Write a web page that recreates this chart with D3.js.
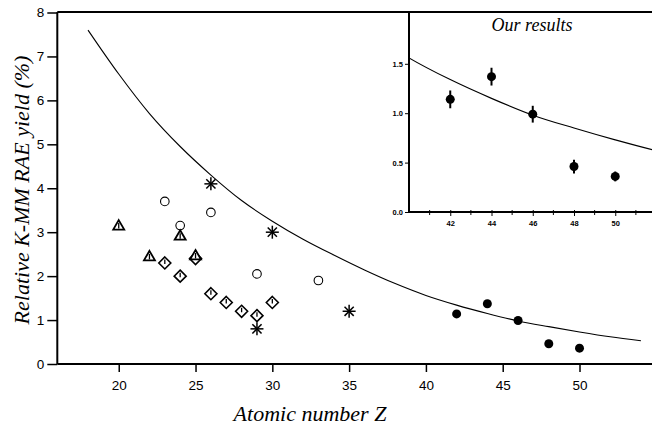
<!DOCTYPE html>
<html>
<head>
<meta charset="utf-8">
<script src="https://cdn.jsdelivr.net/npm/d3@7"></script>
<style>
  html, body { margin: 0; padding: 0; background: #fff; }
  svg { display: block; }
</style>
</head>
<body>
<svg id="chart" width="652" height="428"></svg>
<script>
// Theoretical K-MM RAE yield curve (Z, %)
const curveZ = [18, 20, 22, 24, 26, 28, 30, 32, 34, 36, 38, 40, 42, 44, 46, 48, 50, 52, 54];
const curveY = [7.6, 6.6, 5.7, 4.95, 4.3, 3.72, 3.25, 2.84, 2.48, 2.14, 1.83, 1.56, 1.34, 1.15, 0.98, 0.85, 0.73, 0.62, 0.53];

// Earlier measurements, one array pair per symbol
const triangleZ = [20, 22, 24, 25];
const triangleY = [3.15, 2.45, 2.92, 2.47];
const circleZ = [23, 24, 26, 29, 33];
const circleY = [3.7, 3.15, 3.45, 2.05, 1.9];
const diamondZ = [23, 24, 25, 26, 27, 28, 29, 30];
const diamondY = [2.3, 2.0, 2.4, 1.6, 1.4, 1.2, 1.1, 1.4];
const starZ = [26, 29, 30, 35];
const starY = [4.1, 0.8, 3.0, 1.2];

// Present results with uncertainties
const ourZ = [42, 44, 46, 48, 50];
const ourY = [1.14, 1.37, 0.99, 0.46, 0.36];
const ourErr = [0.09, 0.09, 0.085, 0.07, 0.05];

// Tick values
const xTicks = [20, 25, 30, 35, 40, 45, 50];
const yTicks = [0, 1, 2, 3, 4, 5, 6, 7, 8];
const insetXTicks = [42, 44, 46, 48, 50];
const insetXMinor = [41, 43, 45, 47, 49, 51];
const insetYTicks = [0, 0.5, 1.0, 1.5];

const svg = d3.select("#chart");
const sans = "'Liberation Sans', Arial, sans-serif";
const serif = "'Liberation Serif', 'Times New Roman', serif";

// ---------- main panel ----------
const x = d3.scaleLinear().domain([16, 55]).range([57.3, 656.3]);
const y = d3.scaleLinear().domain([0, 8]).range([364, 12.5]);

const main = svg.append("g");

// frame: left axis, bottom axis, top border
main.append("line").attr("x1", x(16)).attr("x2", 652).attr("y1", 12).attr("y2", 12)
  .attr("stroke", "#000").attr("stroke-width", 2);

const yAxis = main.append("g").attr("transform", `translate(${x(16)},0)`)
  .call(d3.axisLeft(y).tickValues(yTicks).tickSize(10).tickPadding(3).tickFormat(d3.format("d")));
const xAxis = main.append("g").attr("transform", `translate(0,${y(0)})`)
  .call(d3.axisBottom(x).tickValues(xTicks).tickSize(8).tickPadding(8).tickFormat(d3.format("d")));
[yAxis, xAxis].forEach(a => {
  a.select(".domain").attr("stroke-width", 2);
  a.selectAll(".tick line").attr("stroke-width", 1.5);
  a.selectAll("text").attr("font-family", sans).attr("font-size", 13.5).attr("fill", "#000");
});
xAxis.select(".domain").attr("d", `M${x(16)},0H652`);
yAxis.select(".domain").attr("d", `M0,${y(0)}V12`);

// theory curve
const curvePts = curveZ.map((z, i) => [z, curveY[i]]);
main.append("path").datum(curvePts)
  .attr("fill", "none").attr("stroke", "#000").attr("stroke-width", 1.1)
  .attr("d", d3.line().x(d => x(d[0])).y(d => y(d[1])).curve(d3.curveMonotoneX));

// open circles
main.selectAll(".circ").data(circleZ.map((z, i) => [z, circleY[i]])).join("circle")
  .attr("cx", d => x(d[0])).attr("cy", d => y(d[1])).attr("r", 4.3)
  .attr("fill", "#fff").attr("stroke", "#000").attr("stroke-width", 1.1);

// open diamonds with small error tick
const dia = main.selectAll(".dia").data(diamondZ.map((z, i) => [z, diamondY[i]])).join("g")
  .attr("transform", d => `translate(${x(d[0])},${y(d[1])})`);
dia.append("path").attr("d", "M0,-6L6,0L0,6L-6,0Z")
  .attr("fill", "#fff").attr("stroke", "#000").attr("stroke-width", 1.6);
dia.append("line").attr("x1", 0).attr("x2", 0).attr("y1", -3.5).attr("y2", 1)
  .attr("stroke", "#000").attr("stroke-width", 1.3);

// open triangles with small error tick
const tri = main.selectAll(".tri").data(triangleZ.map((z, i) => [z, triangleY[i]])).join("g")
  .attr("transform", d => `translate(${x(d[0])},${y(d[1])})`);
tri.append("path").attr("d", "M0,-5.5L5.5,4L-5.5,4Z")
  .attr("fill", "#fff").attr("stroke", "#000").attr("stroke-width", 1.8);
tri.append("line").attr("x1", 0).attr("x2", 0).attr("y1", -2.5).attr("y2", 3)
  .attr("stroke", "#000").attr("stroke-width", 1.3);

// asterisks
const star = main.selectAll(".star").data(starZ.map((z, i) => [z, starY[i]])).join("g")
  .attr("transform", d => `translate(${x(d[0])},${y(d[1])})`);
[0, 45, 90, 135].forEach(a => {
  star.append("line").attr("x1", -6.5).attr("x2", 6.5).attr("y1", 0).attr("y2", 0)
    .attr("transform", `rotate(${a})`).attr("stroke", "#000").attr("stroke-width", 1.5);
});

// filled dots (present work)
main.selectAll(".dot").data(ourZ.map((z, i) => [z, ourY[i]])).join("circle")
  .attr("cx", d => x(d[0])).attr("cy", d => y(d[1])).attr("r", 4.5).attr("fill", "#000");

// axis titles
svg.append("text")
  .attr("transform", `translate(29,190) rotate(-90)`)
  .attr("text-anchor", "middle").attr("font-family", serif).attr("font-style", "italic")
  .attr("font-size", 22).text("Relative K-MM RAE yield (%)");
svg.append("text")
  .attr("x", 310).attr("y", 421)
  .attr("text-anchor", "middle").attr("font-family", serif).attr("font-style", "italic")
  .attr("font-size", 22).text("Atomic number Z");

// ---------- inset panel ----------
const ix = d3.scaleLinear().domain([40, 52]).range([409, 656.5]);
const iy = d3.scaleLinear().domain([0, 2]).range([212, 14.4]);

const inset = svg.append("g");
inset.append("rect").attr("x", 409).attr("y", 13).attr("width", 243).attr("height", 199).attr("fill", "#fff");

inset.append("defs").append("clipPath").attr("id", "insetClip")
  .append("rect").attr("x", 409).attr("y", 13).attr("width", 243).attr("height", 199);

const ixAxis = inset.append("g").attr("transform", `translate(0,212)`)
  .call(d3.axisBottom(ix).tickValues(insetXTicks).tickSize(4).tickPadding(5).tickFormat(d3.format("d")));
const iyAxis = inset.append("g").attr("transform", `translate(409,0)`)
  .call(d3.axisLeft(iy).tickValues(insetYTicks).tickSize(4).tickPadding(2).tickFormat(d3.format(".1f")));
[ixAxis, iyAxis].forEach(a => {
  a.select(".domain").attr("stroke-width", 2);
  a.selectAll(".tick line").attr("stroke-width", 1);
  a.selectAll("text").attr("font-family", sans).attr("font-size", 7.5).attr("font-weight", "bold").attr("fill", "#000");
});
ixAxis.select(".domain").attr("d", "M409,0H652");
iyAxis.select(".domain").attr("d", "M0,212V12");
// minor ticks on the inset Z axis
inset.selectAll(".minor").data(insetXMinor).join("line")
  .attr("x1", d => ix(d)).attr("x2", d => ix(d)).attr("y1", 210).attr("y2", 215)
  .attr("stroke", "#000").attr("stroke-width", 1);
ixAxis.selectAll(".tick line").attr("y1", -2);

inset.append("path").datum(curvePts)
  .attr("clip-path", "url(#insetClip)")
  .attr("fill", "none").attr("stroke", "#000").attr("stroke-width", 1.1)
  .attr("d", d3.line().x(d => ix(d[0])).y(d => iy(d[1])).curve(d3.curveMonotoneX));

const ipts = ourZ.map((z, i) => [z, ourY[i], ourErr[i]]);
inset.selectAll(".err").data(ipts).join("line")
  .attr("x1", d => ix(d[0])).attr("x2", d => ix(d[0]))
  .attr("y1", d => iy(d[1] - d[2])).attr("y2", d => iy(d[1] + d[2]))
  .attr("stroke", "#000").attr("stroke-width", 2);
inset.selectAll(".idot").data(ipts).join("circle")
  .attr("cx", d => ix(d[0])).attr("cy", d => iy(d[1])).attr("r", 4.5).attr("fill", "#000");

inset.append("text").attr("x", 532).attr("y", 31)
  .attr("text-anchor", "middle").attr("font-family", serif).attr("font-style", "italic")
  .attr("font-size", 18).text("Our results");
</script>
</body>
</html>
